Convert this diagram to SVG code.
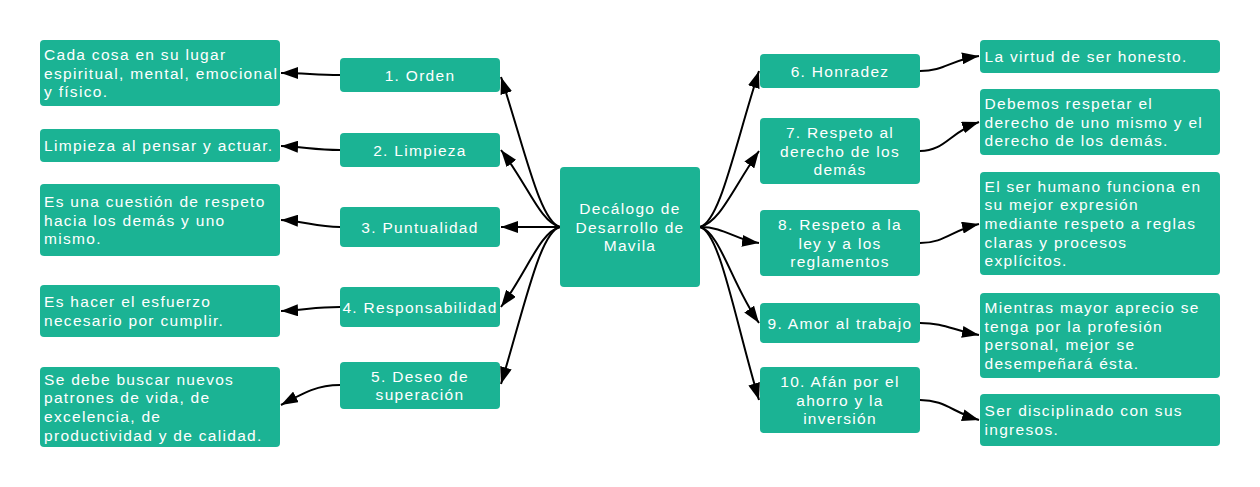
<svg xmlns="http://www.w3.org/2000/svg" width="1260" height="487" viewBox="0 0 1260 487">
<defs>
<style>
.box{fill:#1bb394;}
.t{font-family:"Liberation Sans",Arial,sans-serif;font-size:15.5px;fill:#ffffff;letter-spacing:1.3px;}
.c{text-anchor:middle;}
.e{fill:none;stroke:#000;stroke-width:2;marker-end:url(#ah);}
</style>
<marker id="ah" viewBox="0 0 17 12" refX="17" refY="6" markerWidth="17" markerHeight="12" markerUnits="userSpaceOnUse" orient="auto">
<path d="M0,0 L17,6 L0,12 z" fill="#000"/>
</marker>
</defs>
<rect width="1260" height="487" fill="#ffffff"/>

<g id="connectors">
<path class="e" d="M560,227 C540,222 525,150 501,77"/>
<path class="e" d="M560,227 C540,222 528,185 501,150"/>
<path class="e" d="M560,227 L501,227"/>
<path class="e" d="M560,227 C540,232 528,270 501,307"/>
<path class="e" d="M560,227 C540,232 525,305 501,384"/>
<path class="e" d="M700,227 C720,222 735,145 759,71"/>
<path class="e" d="M700,227 C720,222 732,190 759,151"/>
<path class="e" d="M700,227 C725,227 735,240 759,243"/>
<path class="e" d="M700,227 C720,232 732,285 759,323"/>
<path class="e" d="M700,227 C720,232 735,320 759,400"/>
<path class="e" d="M340,75 C315,75 305,73 281,73"/>
<path class="e" d="M340,150 C315,150 305,147 281,146"/>
<path class="e" d="M340,227 C315,227 305,221 281,220"/>
<path class="e" d="M340,307 C315,307 305,310 281,311"/>
<path class="e" d="M340,385 C318,385 305,392 281,405"/>
<path class="e" d="M920,71 C945,71 950,60 979,56"/>
<path class="e" d="M920,151 C945,151 950,132 979,122"/>
<path class="e" d="M920,243 C945,243 952,230 979,224"/>
<path class="e" d="M920,323 C945,323 952,330 979,335"/>
<path class="e" d="M920,400 C945,400 952,412 979,420"/>
</g>

<g id="center">
<rect class="box" x="560" y="167" width="140" height="120" rx="4"/>
<text class="t c"><tspan x="630" y="213.8">Decálogo de</tspan><tspan x="630" y="232.5">Desarrollo de</tspan><tspan x="630" y="251.2">Mavila</tspan></text>
</g>

<g id="n1">
<rect class="box" x="340" y="58" width="160" height="34" rx="4"/>
<text class="t c" x="420" y="80.5">1. Orden</text>
</g>
<g id="n2">
<rect class="box" x="340" y="133" width="160" height="34" rx="4"/>
<text class="t c" x="420" y="155.5">2. Limpieza</text>
</g>
<g id="n3">
<rect class="box" x="340" y="207" width="160" height="40" rx="4"/>
<text class="t c" x="420" y="232.5">3. Puntualidad</text>
</g>
<g id="n4">
<rect class="box" x="340" y="287" width="160" height="40" rx="4"/>
<text class="t c" x="420" y="312.5">4. Responsabilidad</text>
</g>
<g id="n5">
<rect class="box" x="340" y="362" width="160" height="47" rx="4"/>
<text class="t c"><tspan x="420" y="381.6">5. Deseo de</tspan><tspan x="420" y="400.3">superación</tspan></text>
</g>

<g id="d1">
<rect class="box" x="40" y="40" width="240" height="66" rx="4"/>
<text class="t"><tspan x="44" y="59.8">Cada cosa en su lugar</tspan><tspan x="44" y="78.5">espiritual, mental, emocional</tspan><tspan x="44" y="97.2">y físico.</tspan></text>
</g>
<g id="d2">
<rect class="box" x="40" y="129" width="240" height="33" rx="4"/>
<text class="t" x="44" y="151">Limpieza al pensar y actuar.</text>
</g>
<g id="d3">
<rect class="box" x="40" y="184" width="240" height="72" rx="4"/>
<text class="t"><tspan x="44" y="206.8">Es una cuestión de respeto</tspan><tspan x="44" y="225.5">hacia los demás y uno</tspan><tspan x="44" y="244.2">mismo.</tspan></text>
</g>
<g id="d4">
<rect class="box" x="40" y="285" width="240" height="52" rx="4"/>
<text class="t"><tspan x="44" y="307.2">Es hacer el esfuerzo</tspan><tspan x="44" y="325.9">necesario por cumplir.</tspan></text>
</g>
<g id="d5">
<rect class="box" x="40" y="367" width="240" height="80" rx="4"/>
<text class="t"><tspan x="44" y="384.5">Se debe buscar nuevos</tspan><tspan x="44" y="403.2">patrones de vida, de</tspan><tspan x="44" y="421.9">excelencia, de</tspan><tspan x="44" y="440.6">productividad y de calidad.</tspan></text>
</g>

<g id="n6">
<rect class="box" x="760" y="54" width="160" height="34" rx="4"/>
<text class="t c" x="840" y="76.5">6. Honradez</text>
</g>
<g id="n7">
<rect class="box" x="760" y="118" width="160" height="66" rx="4"/>
<text class="t c"><tspan x="840" y="137.8">7. Respeto al</tspan><tspan x="840" y="156.5">derecho de los</tspan><tspan x="840" y="175.2">demás</tspan></text>
</g>
<g id="n8">
<rect class="box" x="760" y="210" width="160" height="66" rx="4"/>
<text class="t c"><tspan x="840" y="229.8">8. Respeto a la</tspan><tspan x="840" y="248.5">ley y a los</tspan><tspan x="840" y="267.2">reglamentos</tspan></text>
</g>
<g id="n9">
<rect class="box" x="760" y="303" width="160" height="40" rx="4"/>
<text class="t c" x="840" y="328.5">9. Amor al trabajo</text>
</g>
<g id="n10">
<rect class="box" x="760" y="367" width="160" height="66" rx="4"/>
<text class="t c"><tspan x="840" y="386.8">10. Afán por el</tspan><tspan x="840" y="405.5">ahorro y la</tspan><tspan x="840" y="424.2">inversión</tspan></text>
</g>

<g id="d6">
<rect class="box" x="980" y="40" width="240" height="33" rx="4"/>
<text class="t" x="984.5" y="62">La virtud de ser honesto.</text>
</g>
<g id="d7">
<rect class="box" x="980" y="89" width="240" height="66" rx="4"/>
<text class="t"><tspan x="984.5" y="108.8">Debemos respetar el</tspan><tspan x="984.5" y="127.5">derecho de uno mismo y el</tspan><tspan x="984.5" y="146.2">derecho de los demás.</tspan></text>
</g>
<g id="d8">
<rect class="box" x="980" y="172" width="240" height="103" rx="4"/>
<text class="t"><tspan x="984.5" y="191.6">El ser humano funciona en</tspan><tspan x="984.5" y="210.3">su mejor expresión</tspan><tspan x="984.5" y="229">mediante respeto a reglas</tspan><tspan x="984.5" y="247.7">claras y procesos</tspan><tspan x="984.5" y="266.4">explícitos.</tspan></text>
</g>
<g id="d9">
<rect class="box" x="980" y="293" width="240" height="85" rx="4"/>
<text class="t"><tspan x="984.5" y="313">Mientras mayor aprecio se</tspan><tspan x="984.5" y="331.7">tenga por la profesión</tspan><tspan x="984.5" y="350.4">personal, mejor se</tspan><tspan x="984.5" y="369.1">desempeñará ésta.</tspan></text>
</g>
<g id="d10">
<rect class="box" x="980" y="394" width="240" height="52" rx="4"/>
<text class="t"><tspan x="984.5" y="416.2">Ser disciplinado con sus</tspan><tspan x="984.5" y="434.9">ingresos.</tspan></text>
</g>
</svg>
